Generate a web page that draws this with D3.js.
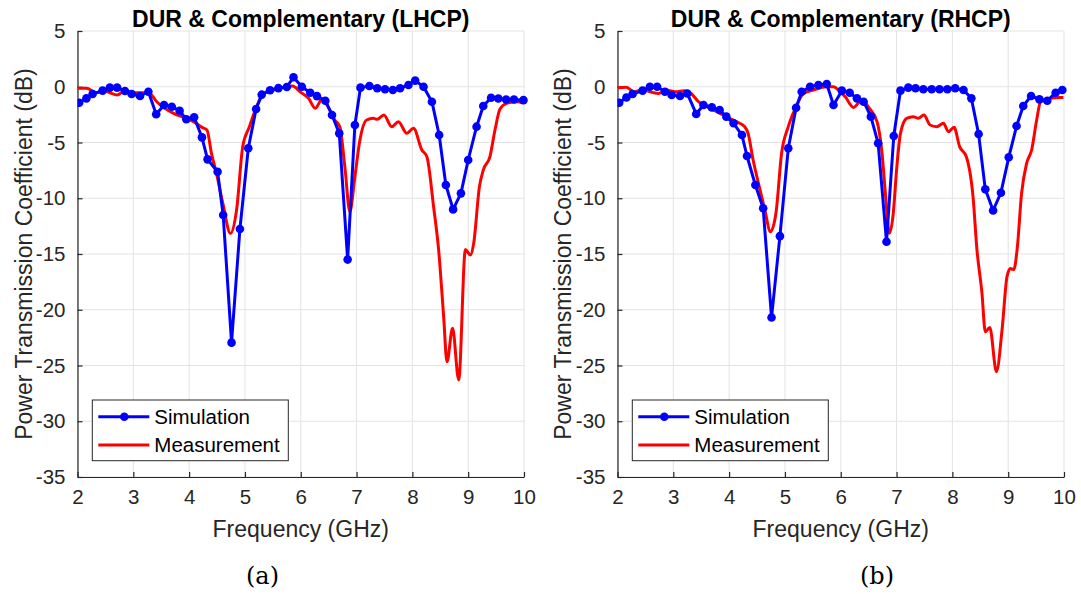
<!DOCTYPE html>
<html>
<head>
<meta charset="utf-8">
<script src="https://cdn.jsdelivr.net/npm/d3@7"></script>
<style>
  body { margin: 0; background: #fff; }
  svg { display: block; }
  text { font-family: "Liberation Sans", Arial, Helvetica, sans-serif; }
</style>
</head>
<body>
<svg id="fig" width="1081" height="594"></svg>
<script>
// Axis ticks
const freqTicks = [2, 3, 4, 5, 6, 7, 8, 9, 10];
const dbTicks = [5, 0, -5, -10, -15, -20, -25, -30, -35];

// LHCP: [frequency GHz, dB]
const lhcpSimulation = [
  [2.03,-1.43],[2.16,-1.04],[2.27,-0.65],[2.45,-0.35],[2.58,-0.08],[2.71,-0.08],[2.85,-0.38],[2.97,-0.65],
  [3.12,-0.83],[3.27,-0.45],[3.41,-2.47],[3.55,-1.64],[3.69,-1.79],[3.83,-2.15],[3.95,-2.92],[4.09,-2.74],
  [4.23,-4.54],[4.33,-6.51],[4.51,-7.62],[4.61,-11.5],[4.76,-22.95],[4.91,-12.76],[5.06,-5.52],[5.20,-2.0],
  [5.30,-0.71],[5.45,-0.32],[5.60,-0.12],[5.75,-0.02],[5.87,0.85],[6.02,0],[6.17,-0.54],[6.29,-0.84],
  [6.44,-1.25],[6.56,-2.53],[6.69,-4.18],[6.84,-15.5],[6.97,-3.43],[7.07,-0.08],[7.23,0.07],[7.37,-0.14],
  [7.51,-0.23],[7.65,-0.29],[7.78,-0.14],[7.93,0.16],[8.05,0.55],[8.20,0],[8.35,-1.34],[8.48,-4.33],
  [8.60,-8.81],[8.73,-11.0],[8.87,-9.56],[9.00,-6.57],[9.15,-3.58],[9.27,-1.73],[9.41,-0.99],[9.54,-1.05],
  [9.68,-1.14],[9.82,-1.14],[9.99,-1.2]
];
const lhcpMeasurement = [
  [2.0,-0.14],[2.16,-0.14],[2.34,-0.54],[2.46,-0.35],[2.58,-0.54],[2.71,-0.74],[2.85,-0.35],[3.0,-0.54],
  [3.18,-0.54],[3.3,-0.65],[3.42,-1.34],[3.54,-1.85],[3.72,-2.38],[3.9,-2.74],[4.08,-3.13],[4.23,-3.64],
  [4.32,-3.88],[4.4,-5.97],[4.49,-7.77],[4.61,-10.6],[4.74,-13.15],[4.85,-11.05],[4.96,-5.37],[5.08,-3.58],
  [5.21,-1.79],[5.33,-0.65],[5.51,-0.29],[5.75,0],[5.85,0.06],[6.0,-0.5],[6.14,-1.04],[6.26,-1.93],
  [6.38,-1.13],[6.49,-1.79],[6.61,-2.98],[6.7,-3.58],[6.79,-7.17],[6.88,-11.2],[6.97,-8.07],[7.06,-4.78],
  [7.18,-2.98],[7.3,-2.83],[7.37,-2.92],[7.49,-2.53],[7.63,-3.58],[7.75,-3.13],[7.9,-4.18],[8.02,-3.73],
  [8.17,-5.67],[8.26,-6.27],[8.38,-10.76],[8.47,-14.6],[8.56,-20.6],[8.62,-24.66],[8.72,-21.67],[8.83,-26.3],
  [8.95,-14.6],[9.04,-15.1],[9.1,-14.0],[9.2,-9.0],[9.27,-7.47],[9.39,-6.27],[9.48,-3.88],[9.57,-2.0],
  [9.69,-1.49],[9.87,-1.34],[9.99,-1.43]
];

// RHCP: [frequency GHz, dB]
const rhcpSimulation = [
  [2.03,-1.43],[2.16,-0.96],[2.27,-0.65],[2.45,-0.35],[2.58,0],[2.71,0],[2.85,-0.45],[2.97,-0.74],
  [3.12,-0.83],[3.25,-0.6],[3.41,-2.44],[3.54,-1.64],[3.69,-1.85],[3.83,-2.08],[3.95,-2.68],[4.08,-3.28],
  [4.23,-4.33],[4.32,-6.21],[4.47,-8.81],[4.61,-10.9],[4.76,-20.7],[4.91,-13.4],[5.06,-5.52],[5.2,-1.88],
  [5.3,-0.45],[5.45,0],[5.6,0.15],[5.75,0.24],[5.87,-1.64],[6.02,-0.35],[6.16,-0.54],[6.29,-1.04],
  [6.41,-1.34],[6.54,-2.68],[6.67,-5.07],[6.82,-13.9],[6.95,-4.42],[7.07,-0.35],[7.21,-0.08],[7.34,-0.14],
  [7.48,-0.23],[7.63,-0.23],[7.77,-0.23],[7.91,-0.23],[8.05,-0.14],[8.2,-0.29],[8.34,-1.04],[8.47,-4.24],
  [8.59,-9.2],[8.73,-11.1],[8.87,-9.5],[9.01,-6.33],[9.15,-3.52],[9.27,-1.73],[9.41,-0.83],[9.56,-1.13],
  [9.7,-1.25],[9.85,-0.54],[9.97,-0.29]
];
const rhcpMeasurement = [
  [2.0,-0.08],[2.16,-0.05],[2.3,-0.45],[2.46,-0.23],[2.58,-0.45],[2.73,-0.6],[2.88,-0.29],[3.03,-0.45],
  [3.2,-0.35],[3.32,-0.6],[3.45,-1.34],[3.6,-1.79],[3.78,-2.24],[3.95,-2.68],[4.13,-3.13],[4.28,-3.58],
  [4.34,-4.18],[4.43,-6.57],[4.54,-8.96],[4.64,-11.05],[4.74,-13.0],[4.84,-11.3],[4.94,-5.97],[5.06,-3.58],
  [5.2,-1.79],[5.33,-0.6],[5.51,-0.29],[5.75,0],[5.87,0],[5.99,-0.45],[6.08,-0.9],[6.23,-1.85],
  [6.38,-1.19],[6.5,-1.85],[6.65,-3.13],[6.74,-5.97],[6.8,-9.56],[6.87,-13.15],[6.94,-11.4],[7.0,-7.47],
  [7.07,-4.18],[7.18,-2.83],[7.3,-2.68],[7.39,-2.83],[7.49,-2.53],[7.6,-3.43],[7.72,-3.58],[7.84,-3.28],
  [7.93,-4.03],[8.03,-3.64],[8.13,-5.37],[8.25,-6.27],[8.37,-9.86],[8.44,-14.6],[8.53,-18.5],[8.59,-21.97],
  [8.67,-21.6],[8.79,-25.55],[8.89,-21.8],[8.98,-17.0],[9.04,-16.3],[9.1,-16.4],[9.16,-14.6],[9.24,-9.56],
  [9.33,-6.87],[9.42,-5.67],[9.51,-2.98],[9.58,-1.34],[9.75,-1.04],[9.93,-0.96],[9.99,-0.96]
];

const panelTitles = ["DUR & Complementary (LHCP)", "DUR & Complementary (RHCP)"];
const panelCaptions = ["(a)", "(b)"];
const seriesNames = ["Simulation", "Measurement"];

const svg = d3.select("#fig");
const axisColor = "#262626";
const gridColor = "#e3e3e3";
const simColor = "#0000ff";
const measColor = "#ff0000";

const panels = [
  { left: 77.5, sim: lhcpSimulation, meas: lhcpMeasurement, title: panelTitles[0], caption: panelCaptions[0], captionX: 262.5, ylabX: 24 },
  { left: 617.5, sim: rhcpSimulation, meas: rhcpMeasurement, title: panelTitles[1], caption: panelCaptions[1], captionX: 877, ylabX: 563 }
];
const plotW = 446.5, plotTop = 31, plotBottom = 477;

panels.forEach((p, i) => {
  const x = d3.scaleLinear().domain([2, 10]).range([p.left, p.left + plotW]);
  const y = d3.scaleLinear().domain([-35, 5]).range([plotBottom, plotTop]);
  const g = svg.append("g");

  // grid
  g.append("g").selectAll("line").data(freqTicks).join("line")
    .attr("x1", d => x(d)).attr("x2", d => x(d)).attr("y1", plotTop).attr("y2", plotBottom)
    .attr("stroke", gridColor).attr("stroke-width", 1);
  g.append("g").selectAll("line").data(dbTicks).join("line")
    .attr("x1", p.left).attr("x2", p.left + plotW).attr("y1", d => y(d)).attr("y2", d => y(d))
    .attr("stroke", gridColor).attr("stroke-width", 1);

  // axes with inward ticks
  const xAxis = d3.axisBottom(x).tickValues(freqTicks).tickSizeInner(-5).tickSizeOuter(0).tickPadding(12);
  const yAxis = d3.axisLeft(y).tickValues(dbTicks).tickSizeInner(-5).tickSizeOuter(0).tickPadding(12)
    .tickFormat(d => d < 0 ? "-" + Math.abs(d) : String(d));
  const gx = g.append("g").attr("transform", `translate(0,${plotBottom})`).call(xAxis);
  const gy = g.append("g").attr("transform", `translate(${p.left},0)`).call(yAxis);
  [gx, gy].forEach(a => {
    a.select(".domain").attr("stroke", axisColor).attr("stroke-width", 1.2);
    a.selectAll(".tick line").attr("stroke", axisColor).attr("stroke-width", 1.2);
    a.selectAll(".tick text").attr("fill", axisColor).style("font-size", "20.5px")
      .style("font-family", '"Liberation Sans", Arial, sans-serif');
  });

  const clipId = "clip" + i;
  svg.append("defs").append("clipPath").attr("id", clipId).append("rect")
    .attr("x", p.left).attr("y", plotTop - 6).attr("width", plotW + 6).attr("height", plotBottom - plotTop + 6);
  const plot = g.append("g").attr("clip-path", `url(#${clipId})`);

  const measLine = d3.line().x(d => x(d[0])).y(d => y(d[1])).curve(d3.curveMonotoneX);
  plot.append("path").datum(p.meas).attr("d", measLine)
    .attr("fill", "none").attr("stroke", measColor).attr("stroke-width", 3).attr("stroke-linejoin", "round");

  const simLine = d3.line().x(d => x(d[0])).y(d => y(d[1]));
  plot.append("path").datum(p.sim).attr("d", simLine)
    .attr("fill", "none").attr("stroke", simColor).attr("stroke-width", 3).attr("stroke-linejoin", "round");
  plot.append("g").selectAll("circle").data(p.sim).join("circle")
    .attr("cx", d => x(d[0])).attr("cy", d => y(d[1])).attr("r", 4.3).attr("fill", simColor);

  // title
  g.append("text").attr("x", p.left + plotW / 2).attr("y", 26.5).attr("text-anchor", "middle")
    .style("font-weight", "bold").style("font-size", "23px").attr("fill", "#000").text(p.title);

  // axis labels
  g.append("text").attr("x", p.left + plotW / 2).attr("y", 537).attr("text-anchor", "middle")
    .style("font-size", "23px").attr("fill", axisColor).text("Frequency (GHz)");
  g.append("text").attr("transform", `translate(${p.ylabX + 8},${(plotTop + plotBottom) / 2}) rotate(-90)`)
    .attr("text-anchor", "middle").style("font-size", "23px").attr("fill", axisColor)
    .text("Power Transmission Coefficient (dB)");

  // caption
  g.append("text").attr("x", p.captionX).attr("y", 584).attr("text-anchor", "middle")
    .style("font-family", '"DejaVu Serif", "Liberation Serif", serif').style("font-size", "24px")
    .attr("fill", "#000").text(p.caption);

  // legend
  const lg = g.append("g").attr("transform", `translate(${p.left + 14.8},400)`);
  lg.append("rect").attr("x", 0).attr("y", 0).attr("width", 196).attr("height", 60.7)
    .attr("fill", "#fff").attr("stroke", axisColor).attr("stroke-width", 1);
  lg.append("line").attr("x1", 6).attr("x2", 57).attr("y1", 16.7).attr("y2", 16.7)
    .attr("stroke", simColor).attr("stroke-width", 3);
  lg.append("circle").attr("cx", 32).attr("cy", 16.7).attr("r", 4.3).attr("fill", simColor);
  lg.append("line").attr("x1", 6).attr("x2", 57).attr("y1", 45).attr("y2", 45)
    .attr("stroke", measColor).attr("stroke-width", 3);
  lg.append("text").attr("x", 62).attr("y", 16.7).attr("dy", "0.35em").style("font-size", "20.5px")
    .attr("fill", "#000").text(seriesNames[0]);
  lg.append("text").attr("x", 62).attr("y", 45).attr("dy", "0.35em").style("font-size", "20.5px")
    .attr("fill", "#000").text(seriesNames[1]);
});
</script>
</body>
</html>
